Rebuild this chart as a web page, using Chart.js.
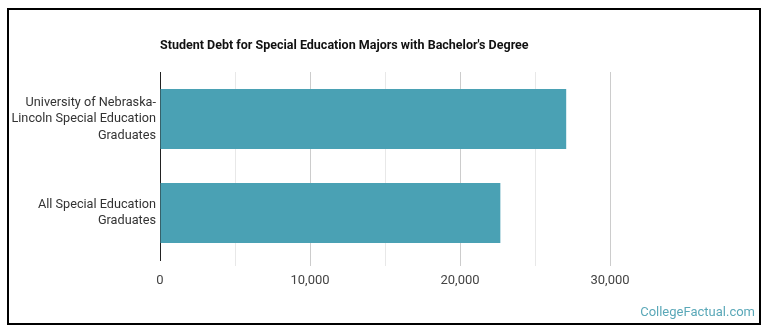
<!DOCTYPE html>
<html>
<head>
<meta charset="utf-8">
<script src="https://cdn.jsdelivr.net/npm/chart.js@4/dist/chart.umd.min.js"></script>
<style>
  html, body { margin: 0; padding: 0; background: #fff; }
  #wrap { position: relative; width: 770px; height: 335px; overflow: hidden; }
  #frame { position: absolute; left: 7px; top: 8px; width: 754px; height: 317px; box-sizing: border-box; border: 2px solid #000; pointer-events: none; }
  canvas { position: absolute; left: 0; top: 0; }
</style>
</head>
<body>
<div id="wrap">
  <canvas id="c" width="770" height="335"></canvas>
  <div id="frame"></div>
</div>
<script>
const chartTitle = "Student Debt for Special Education Majors with Bachelor's Degree";
const categories = [
  ["University of Nebraska-", "Lincoln Special Education", "Graduates"],
  ["All Special Education", "Graduates"]
];
const debtValues = [27080, 22690];
const tickStep = 5000;
const labelStep = 10000;
const axisMax = 35000;
const watermark = "CollegeFactual.com";

const textPlugin = {
  id: 'textPlugin',
  afterDraw(chart) {
    const ctx = chart.ctx;
    const a = chart.chartArea;
    ctx.save();
    ctx.font = "bold 12.5px Roboto";
    ctx.fillStyle = "#111";
    ctx.textAlign = "left";
    ctx.textBaseline = "alphabetic";
    ctx.fillText(chartTitle, a.left, 48.5);
    ctx.font = "13px Roboto";
    ctx.fillStyle = "#5aa8b8";
    ctx.textAlign = "right";
    ctx.fillText(watermark, 755, 316);
    ctx.restore();
  }
};

new Chart(document.getElementById('c'), {
  type: 'bar',
  data: {
    labels: categories,
    datasets: [{
      data: debtValues,
      backgroundColor: '#4aa1b4',
      borderWidth: 0,
      categoryPercentage: 1,
      barPercentage: 0.64
    }]
  },
  options: {
    indexAxis: 'y',
    responsive: false,
    animation: false,
    layout: { padding: { top: 72, right: 85, bottom: 0, left: 0 } },
    plugins: { legend: { display: false }, tooltip: { enabled: false }, title: { display: false } },
    scales: {
      x: {
        min: 0, max: axisMax,
        afterFit(scale) { scale.height = 75; },
        border: { display: false },
        grid: {
          drawTicks: true,
          tickLength: 6,
          color(ctx) {
            const v = ctx.tick ? ctx.tick.value : 0;
            if (v === 0 || v === axisMax) return 'rgba(0,0,0,0)';
            return v % labelStep === 0 ? '#cccccc' : '#e8e8e8';
          }
        },
        ticks: {
          stepSize: tickStep,
          padding: 7,
          maxRotation: 0,
          color: '#444',
          font: { family: 'Roboto', size: 13 },
          callback(v) { return (v % labelStep === 0 && v !== axisMax) ? v.toLocaleString('en-US') : ''; }
        }
      },
      y: {
        afterFit(scale) { scale.width = 160; },
        border: { display: true, color: '#222', width: 1 },
        grid: { display: false, drawTicks: false },
        ticks: {
          padding: 4,
          color: '#333',
          font: { family: 'Roboto', size: 12.7, lineHeight: 1.31 }
        }
      }
    }
  },
  plugins: [textPlugin]
});
</script>
</body>
</html>
